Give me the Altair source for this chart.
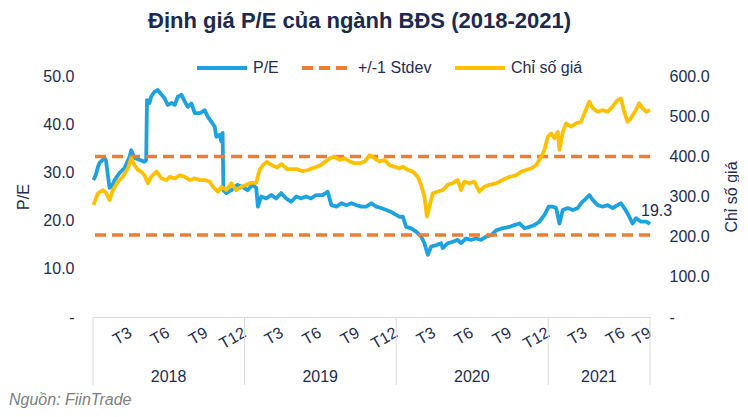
import altair as alt
import pandas as pd

# ---------------- data ----------------
series_names = ["P/E", "+/-1 Stdev", "Chỉ số giá"]

pe_dates = [
    "2018-01-02", "2018-01-08", "2018-01-13", "2018-01-17", "2018-01-29", "2018-02-01", "2018-02-05", "2018-02-10", "2018-02-17", "2018-02-22",
    "2018-03-06", "2018-03-18", "2018-03-30", "2018-04-03", "2018-04-11", "2018-04-23", "2018-05-05", "2018-05-09", "2018-05-11", "2018-05-17",
    "2018-05-21", "2018-05-29", "2018-06-06", "2018-06-15", "2018-06-22", "2018-06-30", "2018-07-09", "2018-07-17", "2018-07-24", "2018-08-02",
    "2018-08-10", "2018-08-17", "2018-08-26", "2018-09-03", "2018-09-15", "2018-09-27", "2018-10-04", "2018-10-13", "2018-10-21", "2018-10-25",
    "2018-11-02", "2018-11-06", "2018-11-09", "2018-11-11", "2018-11-18", "2018-11-30", "2018-12-08", "2018-12-15", "2018-12-27",
    "2019-01-08", "2019-01-20", "2019-01-29", "2019-02-02", "2019-02-10", "2019-02-22", "2019-03-06", "2019-03-18", "2019-03-30", "2019-04-11",
    "2019-04-23", "2019-05-05", "2019-05-17", "2019-05-29", "2019-06-10", "2019-06-22", "2019-07-08", "2019-07-20", "2019-07-29", "2019-08-10",
    "2019-08-22", "2019-09-03", "2019-09-15", "2019-09-27", "2019-10-09", "2019-10-21", "2019-11-02", "2019-11-14", "2019-11-26", "2019-12-08", "2019-12-20",
    "2020-01-01", "2020-01-09", "2020-01-17", "2020-01-25", "2020-02-06", "2020-02-18", "2020-03-01", "2020-03-09", "2020-03-17", "2020-03-25",
    "2020-04-06", "2020-04-18", "2020-04-22", "2020-05-04", "2020-05-16", "2020-05-28", "2020-06-05", "2020-06-17", "2020-06-29", "2020-07-11",
    "2020-07-23", "2020-08-05", "2020-08-17", "2020-08-29", "2020-09-13", "2020-09-30", "2020-10-12", "2020-10-24", "2020-11-05", "2020-11-17",
    "2020-11-29", "2020-12-11", "2020-12-23",
    "2021-01-02", "2021-01-12", "2021-01-20", "2021-01-28", "2021-02-05", "2021-02-17", "2021-03-01", "2021-03-13", "2021-03-21", "2021-04-02",
    "2021-04-10", "2021-04-18", "2021-04-30", "2021-05-12", "2021-05-24", "2021-06-05", "2021-06-17", "2021-06-25", "2021-07-03", "2021-07-11",
    "2021-07-23", "2021-07-31", "2021-08-12", "2021-08-25", "2021-09-03",
]
pe_values = [
    28.4, 29.5, 31.2, 32.0, 33.0, 32.6, 29.9, 26.8, 27.4, 28.4,
    29.9, 30.9, 33.2, 34.6, 33.0, 32.6, 32.2, 32.6, 45.0, 44.4,
    45.7, 46.7, 47.1, 46.1, 45.4, 44.0, 44.4, 44.0, 45.7, 46.1,
    44.7, 43.6, 44.3, 42.3, 42.3, 42.9, 41.6, 40.5, 39.5, 37.4,
    37.8, 36.4, 38.2, 26.3, 25.7, 26.3, 27.0, 27.4, 27.0,
    26.3, 27.4, 26.8, 22.9, 25.0, 24.6, 25.3, 24.6, 25.7, 24.6,
    23.9, 25.0, 24.6, 25.0, 24.6, 25.3, 25.3, 26.0, 23.2, 22.9,
    23.6, 23.2, 23.6, 23.2, 22.9, 22.9, 23.6, 22.9, 22.6, 22.2, 21.8,
    21.2, 20.8, 20.8, 18.7, 18.4, 17.7, 16.7, 15.3, 12.9, 14.6,
    14.9, 15.3, 14.3, 15.3, 15.6, 16.0, 15.3, 16.3, 16.0, 16.3,
    16.0, 16.7, 17.0, 18.0, 18.4, 18.7, 19.1, 19.4, 18.4, 18.7,
    19.1, 19.8, 21.2,
    22.9, 22.9, 22.6, 19.4, 22.2, 22.6, 22.2, 22.6, 23.6, 24.6,
    25.3, 24.3, 23.2, 22.9, 23.2, 22.6, 23.2, 23.6, 22.6, 21.5,
    19.4, 20.5, 19.8, 19.8, 19.3,
]

idx_dates = [
    "2018-01-02", "2018-01-13", "2018-01-25", "2018-02-02", "2018-02-10", "2018-02-18", "2018-03-02", "2018-03-14", "2018-03-26", "2018-04-03",
    "2018-04-11", "2018-04-19", "2018-04-27", "2018-05-05", "2018-05-13", "2018-05-21", "2018-06-03", "2018-06-15", "2018-06-27", "2018-07-05",
    "2018-07-17", "2018-07-29", "2018-08-10", "2018-08-22", "2018-09-03", "2018-09-15", "2018-09-27", "2018-10-09", "2018-10-17", "2018-10-29",
    "2018-11-06", "2018-11-18", "2018-11-30", "2018-12-12", "2018-12-24",
    "2019-01-05", "2019-01-17", "2019-01-29", "2019-02-06", "2019-02-14", "2019-02-23", "2019-03-08", "2019-03-20", "2019-03-31", "2019-04-13",
    "2019-04-25", "2019-05-07", "2019-05-21", "2019-06-02", "2019-06-16", "2019-07-03", "2019-07-16", "2019-07-27", "2019-08-06", "2019-08-18",
    "2019-08-30", "2019-09-11", "2019-09-23", "2019-10-05", "2019-10-17", "2019-10-29", "2019-11-10", "2019-11-22", "2019-12-04", "2019-12-16",
    "2019-12-28",
    "2020-01-09", "2020-01-17", "2020-01-29", "2020-02-10", "2020-02-22", "2020-03-01", "2020-03-09", "2020-03-15", "2020-03-21", "2020-03-29",
    "2020-04-10", "2020-04-22", "2020-05-04", "2020-05-16", "2020-05-28", "2020-06-05", "2020-06-13", "2020-06-25", "2020-07-07", "2020-07-19",
    "2020-07-31", "2020-08-12", "2020-08-29", "2020-09-13", "2020-09-30", "2020-10-16", "2020-10-28", "2020-11-09", "2020-11-21", "2020-12-03",
    "2020-12-15", "2020-12-23", "2020-12-31",
    "2021-01-08", "2021-01-16", "2021-01-24", "2021-01-28", "2021-02-05", "2021-02-13", "2021-02-25", "2021-03-09", "2021-03-21", "2021-03-29",
    "2021-04-10", "2021-04-18", "2021-04-30", "2021-05-12", "2021-05-24", "2021-06-05", "2021-06-17", "2021-06-25", "2021-07-03", "2021-07-11",
    "2021-07-19", "2021-07-31", "2021-08-08", "2021-08-16", "2021-08-25", "2021-09-03",
]
idx_values = [
    279, 308, 316, 308, 291, 316, 337, 349, 370, 395,
    378, 366, 362, 353, 333, 349, 362, 345, 341, 349,
    345, 353, 349, 341, 345, 341, 341, 337, 324, 312,
    324, 316, 333, 316, 324,
    329, 334, 334, 366, 378, 386, 378, 372, 381, 368,
    368, 368, 363, 366, 371, 378, 388, 396, 399, 391,
    395, 387, 383, 383, 387, 403, 395, 387, 391, 378,
    374,
    370, 374, 366, 362, 349, 329, 299, 250, 275, 308,
    312, 316, 329, 333, 341, 316, 337, 333, 337, 312,
    324, 329, 333, 341, 349, 353, 362, 366, 370, 378,
    399, 416, 449,
    457, 445, 461, 416, 461, 482, 474, 482, 486, 507,
    536, 520, 511, 515, 511, 524, 540, 544, 511, 486,
    495, 515, 532, 520, 511, 515,
]

stdev_levels = [33.3, 17.0]

pe_ticks = [0, 10, 20, 30, 40, 50]
idx_ticks = [0, 100, 200, 300, 400, 500, 600]

x_domain = ["2018-01-01", "2021-09-03"]
month_tick_dates = [
    "2018-03-31", "2018-06-30", "2018-09-30", "2018-12-31",
    "2019-03-31", "2019-06-30", "2019-09-30", "2019-12-31",
    "2020-03-31", "2020-06-30", "2020-09-30", "2020-12-31",
    "2021-03-31", "2021-06-30", "2021-09-02",
]
years = ["2018", "2019", "2020", "2021"]
year_mid_dates = ["2018-07-02", "2019-07-02", "2020-07-01", "2021-05-03"]
year_bounds = ["2018-01-01", "2019-01-01", "2020-01-01", "2021-01-01", "2021-09-03"]
source_note = ["Nguồn: FiinTrade"]
chart_title = "Định giá P/E của ngành BĐS (2018-2021)"

# ---------------- style ----------------
BLUE = "#1EA1DF"
ORANGE = "#ED7D31"
YELLOW = "#FFC000"
NAVY = "#1F2D4F"
TITLE_NAVY = "#1B2A4E"
LINEGRAY = "#D9D9D9"
FONT = "Liberation Sans"
NBSP = "\u00a0"


def dt(s):
    y, m, d = (int(p) for p in s.split("-"))
    return alt.DateTime(year=y, month=m, date=d, utc=True)


pe_df = pd.DataFrame({"date": pe_dates, "value": pe_values, "series": series_names[0]})
sd_df = pd.DataFrame({"value": stdev_levels, "series": series_names[1]})
idx_df = pd.DataFrame({"date": idx_dates, "value": idx_values, "series": series_names[2]})
last_df = pe_df.tail(1).assign(label=lambda d: d["value"].map(lambda v: f"{v:.1f}"))
years_df = pd.DataFrame({"date": year_mid_dates, "year": years})
bounds_df = pd.DataFrame({"date": year_bounds})
src_df = pd.DataFrame({"note": source_note})

x_scale = alt.Scale(type="utc", domain=[dt(x_domain[0]), dt(x_domain[1])])
x_axis = alt.Axis(
    values=[dt(s) for s in month_tick_dates],
    labelExpr="'T' + (utcmonth(datum.value) + 1)",
    labelAngle=330, labelAlign="right", labelBaseline="middle", labelPadding=14,
    labelFontSize=16, labelFont=FONT, labelColor=NAVY, labelOverlap=False, labelFlush=False,
    ticks=False, tickSize=0, domainColor=LINEGRAY, domainWidth=1, grid=False, title=None,
)


def X():
    return alt.X("date:T", scale=x_scale, axis=x_axis)


left_axis = alt.Axis(
    values=pe_ticks, orient="left",
    labelExpr="datum.value == 0 ? '-" + NBSP + NBSP + "' : format(datum.value, '.1f')",
    labelFontSize=16, labelFont=FONT, labelColor=NAVY, labelPadding=19,
    ticks=False, tickSize=0, domain=False, grid=False,
    title="P/E", titleFont=FONT, titleFontSize=16, titleFontWeight="normal", titleColor=NAVY,
    titleAngle=270, titleX=-70, titleY=120.5, titleAlign="center", titleBaseline="middle",
)
right_axis = alt.Axis(
    values=idx_ticks, orient="right",
    labelExpr="datum.value == 0 ? '-' : format(datum.value, '.1f')",
    labelFontSize=16, labelFont=FONT, labelColor=NAVY, labelPadding=19,
    ticks=False, tickSize=0, domain=False, grid=False,
    title="Chỉ số giá", titleFont=FONT, titleFontSize=16, titleFontWeight="normal", titleColor=NAVY,
    titleAngle=270, titleX=81, titleY=120.5, titleAlign="center", titleBaseline="middle",
)

legend = alt.Legend(
    orient="none", legendX=102, legendY=-35, direction="horizontal", title=None,
    symbolType="stroke", symbolSize=2500, symbolStrokeWidth=4,
    labelFontSize=16, labelFont=FONT, labelColor=NAVY, labelOffset=4, columnPadding=15,
)
color = alt.Color("series:N", scale=alt.Scale(domain=series_names, range=[BLUE, ORANGE, YELLOW]), legend=legend)
dash = alt.StrokeDash("series:N", scale=alt.Scale(domain=series_names, range=[[1, 0], [11, 6], [1, 0]]), legend=legend)

pe_y = alt.Y("value:Q", scale=alt.Scale(domain=[pe_ticks[0], pe_ticks[-1]], nice=False), axis=left_axis)
idx_y = alt.Y("value:Q", scale=alt.Scale(domain=[idx_ticks[0], idx_ticks[-1]], nice=False), axis=right_axis)

pe_line = alt.Chart(pe_df).mark_line(strokeWidth=3.8, strokeJoin="round").encode(
    x=X(), y=pe_y, color=color, strokeDash=dash)
sd_rules = alt.Chart(sd_df).mark_rule(strokeWidth=3.5).encode(y=pe_y, color=color, strokeDash=dash)
last_label = alt.Chart(last_df).mark_text(
    align="left", baseline="middle", dx=-9, dy=-13, fontSize=16, font=FONT, color=NAVY
).encode(x=X(), y=pe_y, text="label:N")

left_layer = alt.layer(pe_line, sd_rules, last_label)

idx_line = alt.Chart(idx_df).mark_line(strokeWidth=3.8, strokeJoin="round").encode(
    x=X(), y=idx_y, color=color, strokeDash=dash)

seps = alt.Chart(bounds_df).mark_rule(color=LINEGRAY, strokeWidth=1).encode(
    x=X(), y=alt.value(241), y2=alt.value(309))
year_text = alt.Chart(years_df).mark_text(
    fontSize=16, font=FONT, color=NAVY, baseline="middle", align="center"
).encode(x=X(), y=alt.value(301), text="year:N")
source_text = alt.Chart(src_df).mark_text(
    align="left", baseline="middle", fontSize=16, font=FONT, fontStyle="italic", color="#808080"
).encode(x=alt.value(-84), y=alt.value(324), text="note:N")

chart = alt.layer(left_layer, idx_line, seps, year_text, source_text).resolve_scale(
    y="independent"
).properties(
    width=557, height=241,
    padding={"left": 85, "top": 68, "right": 89, "bottom": 92},
    autosize=alt.AutoSizeParams(type="none"),
    title=alt.TitleParams(
        text=chart_title, font=FONT, fontSize=22, fontWeight="bold", color=TITLE_NAVY,
        anchor="middle", frame="group", dx=-12, dy=-4,
    ),
).configure_view(stroke=None)

chart.save("out.html", embed_options={"renderer": "svg", "actions": False})
